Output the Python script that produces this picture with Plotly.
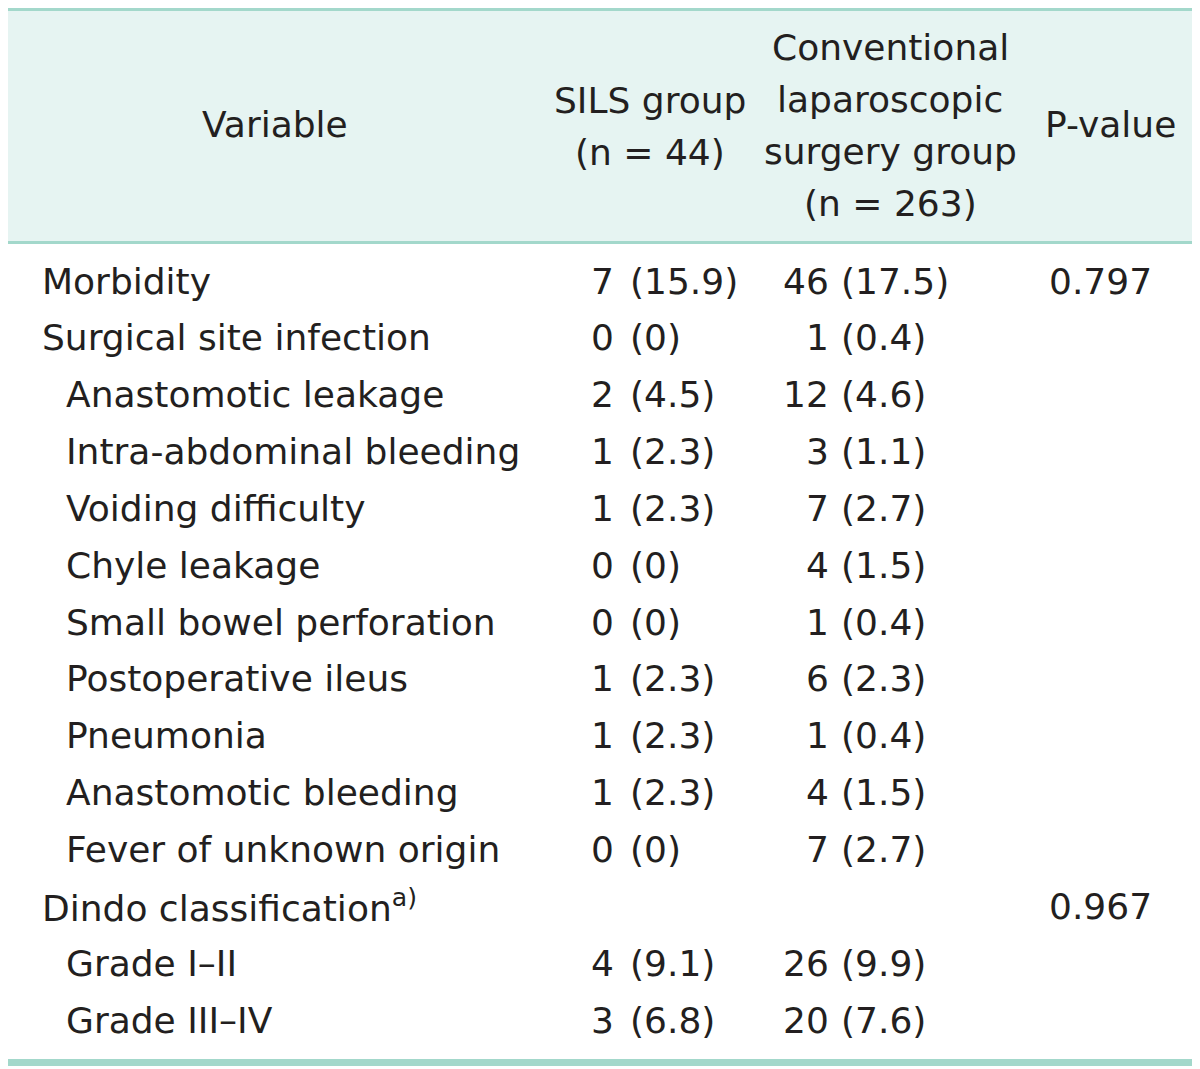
import plotly.graph_objects as go

# ---- data ----
variables = [
    "Morbidity", "Surgical site infection", "Anastomotic leakage",
    "Intra-abdominal bleeding", "Voiding difficulty", "Chyle leakage",
    "Small bowel perforation", "Postoperative ileus", "Pneumonia",
    "Anastomotic bleeding", "Fever of unknown origin",
    "Dindo classification<sup>a)</sup>", "Grade I\u2013II", "Grade III\u2013IV",
]
level = [0, 0, 1, 1, 1, 1, 1, 1, 1, 1, 1, 0, 1, 1]
sils_n = ["7", "0", "2", "1", "1", "0", "0", "1", "1", "1", "0", "", "4", "3"]
sils_pct = ["15.9", "0", "4.5", "2.3", "2.3", "0", "0", "2.3", "2.3", "2.3", "0", "", "9.1", "6.8"]
conv_n = ["46", "1", "12", "3", "7", "4", "1", "6", "1", "4", "7", "", "26", "20"]
conv_pct = ["17.5", "0.4", "4.6", "1.1", "2.7", "1.5", "0.4", "2.3", "0.4", "1.5", "2.7", "", "9.9", "7.6"]
p_values = ["0.797", "", "", "", "", "", "", "", "", "", "", "0.967", "", ""]

header_variable = ["Variable"]
header_sils = ["SILS group", "(n = 44)"]
header_conv = ["Conventional", "laparoscopic", "surgery group", "(n = 263)"]
header_p = ["P-value"]

# ---- style ----
PAGE_OFF = 8                      # default body margin of the html page
W, H = 1200 - PAGE_OFF, 1069 - PAGE_OFF
FONT = "DejaVu Sans"
FS = 36
TXT = "#231f20"
TEAL = "#a3d8cb"
HEAD_BG = "#e6f4f2"

fig = go.Figure()
fig.add_trace(go.Scatter(x=[PAGE_OFF, 1200], y=[PAGE_OFF, 1069], mode="markers",
                         marker=dict(opacity=0), hoverinfo="skip", showlegend=False))

def band(y0, y1, color):
    return dict(type="rect", xref="x", yref="y", x0=6, x1=1195, y0=y0, y1=y1,
                fillcolor=color, line=dict(width=0), layer="below")

shapes = [
    band(11, 241, HEAD_BG),
    band(4, 11, TEAL),
    band(241, 244, TEAL),
    band(1059, 1066, TEAL),
]

ann = []

def add(text, x, y, xanchor):
    ann.append(dict(text=text, x=x, y=y, xref="x", yref="y", xanchor=xanchor,
                    yanchor="middle", showarrow=False,
                    font=dict(family=FONT, size=FS, color=TXT)))

# header
add(header_variable[0], 275, 124, "center")
for i, t in enumerate(header_sils):
    add(t, 650, 100 + i * 52, "center")
for i, t in enumerate(header_conv):
    add(t, 890, 47 + i * 52, "center")
add(header_p[0], 1110, 124, "center")

# body
y0, dy = 281, 56.85
for i, v in enumerate(variables):
    y = y0 + i * dy
    add(v, 40 if level[i] == 0 else 64, y, "left")
    if sils_n[i]:
        add(sils_n[i], 616, y, "right")
        add("(" + sils_pct[i] + ")", 628, y, "left")
    if conv_n[i]:
        add(conv_n[i], 831, y, "right")
        add("(" + conv_pct[i] + ")", 839, y, "left")
    if p_values[i]:
        add(p_values[i], 1100, y, "center")

fig.update_layout(
    width=W, height=H, margin=dict(l=0, r=0, t=0, b=0),
    paper_bgcolor="white", plot_bgcolor="white",
    xaxis=dict(range=[PAGE_OFF, 1200], visible=False, fixedrange=True),
    yaxis=dict(range=[1069, PAGE_OFF], visible=False, fixedrange=True),
    shapes=shapes, annotations=ann, showlegend=False,
)
fig.write_html("out.html")
